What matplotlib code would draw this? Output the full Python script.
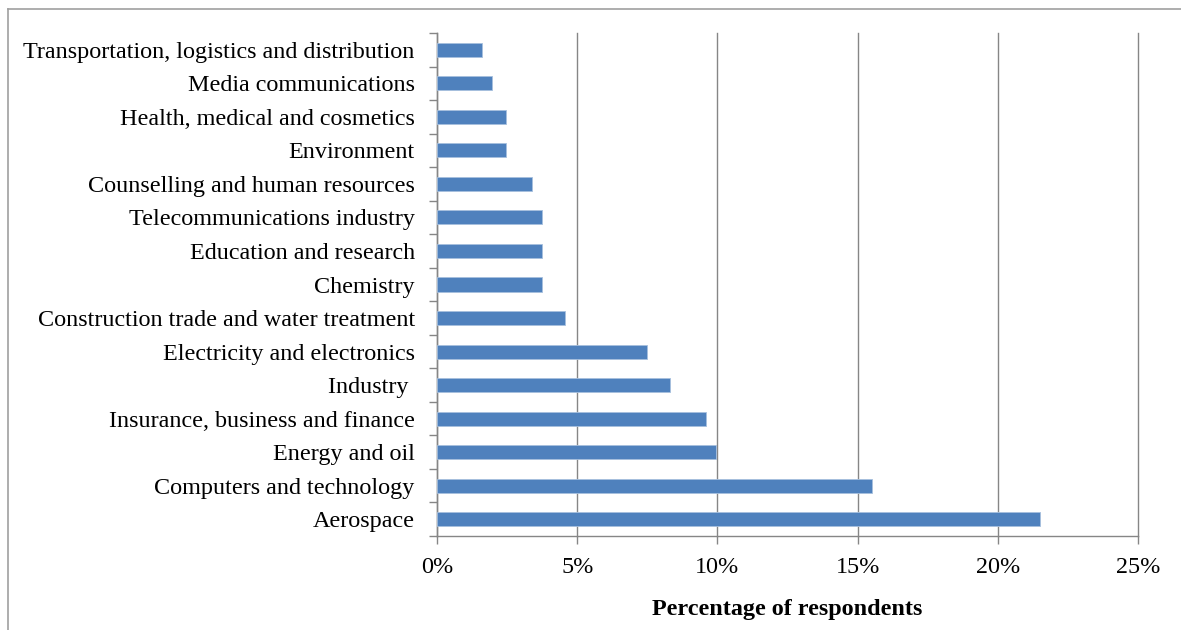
import matplotlib
matplotlib.use("Agg")
import matplotlib.pyplot as plt
from matplotlib.lines import Line2D
from matplotlib.ticker import FuncFormatter, FixedLocator

categories = [
    "Aerospace",
    "Computers and technology",
    "Energy and oil",
    "Insurance, business and finance",
    "Industry ",
    "Electricity and electronics",
    "Construction trade and water treatment",
    "Chemistry",
    "Education and research",
    "Telecommunications industry",
    "Counselling and human resources",
    "Environment",
    "Health, medical and cosmetics",
    "Media communications",
    "Transportation, logistics and distribution",
]
values = [21.5, 15.5, 9.95, 9.6, 8.3, 7.5, 4.55, 3.75, 3.75, 3.75, 3.4, 2.45, 2.45, 1.95, 1.6]
xticks = [0, 5, 10, 15, 20, 25]
xlabel = "Percentage of respondents"

plt.rcParams['font.family'] = ['Liberation Serif', 'DejaVu Serif']

fig = plt.figure(figsize=(11.81, 6.30), dpi=100)
ax = fig.add_axes([437/1181, 1-536/630, (1138-437)/1181, (536-33)/630])

y = list(range(len(categories)))
ax.barh(y, values, height=0.42, color="#4F81BD", edgecolor="#A7C0DE", linewidth=0.6, zorder=3)

ax.set_xlim(0, 25)
ax.set_ylim(-0.5, len(categories) - 0.5)
ax.xaxis.set_major_locator(FixedLocator(xticks))
ax.xaxis.set_major_formatter(FuncFormatter(lambda v, p: f"{int(v)}%"))
ax.grid(axis="x", color="#868686", linewidth=1.0, zorder=0)
for gl in ax.get_xgridlines():
    gl.set_clip_on(False)

ax.set_yticks(y)
ax.set_yticklabels(categories)
ax.set_yticks([i - 0.5 for i in range(len(categories) + 1)], minor=True)
ax.tick_params(axis="y", which="major", length=0, pad=16, labelsize=17.4)
ax.tick_params(axis="y", which="minor", length=6, color="#868686", width=1)
ax.tick_params(axis="x", which="major", length=6, color="#868686", width=1, labelsize=17.4, pad=9)

for s in ["top", "right"]:
    ax.spines[s].set_visible(False)
for s in ["left", "bottom"]:
    ax.spines[s].set_color("#868686")
    ax.spines[s].set_linewidth(1)

ax.set_xlabel(xlabel, fontsize=17.4, fontweight="bold", labelpad=15)

# outer chart border (top and left visible)
fig.add_artist(Line2D([8/1181, 8/1181], [0, 1-9/630], transform=fig.transFigure, color="#A0A0A0", linewidth=1.2))
fig.add_artist(Line2D([8/1181, 1], [1-9/630, 1-9/630], transform=fig.transFigure, color="#A0A0A0", linewidth=1.2))

fig.savefig("out.png", dpi=100, facecolor="white")
